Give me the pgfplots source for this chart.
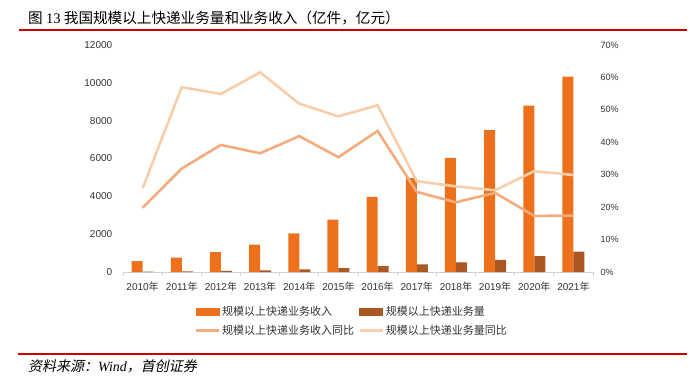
\documentclass[border=0pt]{standalone}
\usepackage{pgfplots}
\pgfplotsset{compat=1.18}
\usepackage{fontspec}
\setmainfont{Liberation Sans}
\newfontfamily\cjk{Noto Sans CJK SC}
\newfontfamily\cjkit{Noto Sans CJK SC}[FakeSlant=0.2]
\newfontfamily\serif{Liberation Serif}
\definecolor{revbar}{RGB}{237,113,28}
\definecolor{volbar}{RGB}{170,87,33}
\definecolor{revline}{RGB}{244,172,124}
\definecolor{volline}{RGB}{249,205,170}
\definecolor{axgray}{RGB}{210,210,210}
\definecolor{labgray}{RGB}{50,50,50}
\definecolor{hdred}{RGB}{208,0,0}
\newcommand{\nian}{{\cjk 年}}
\begin{document}
\begin{tikzpicture}
\useasboundingbox (0,0) rectangle (693bp,-381bp);
\node[anchor=west, inner sep=0, font=\fontsize{14.6bp}{16bp}\selectfont] at (28bp,-18bp) {\cjk 图 {\serif 13} 我国规模以上快递业务量和业务收入（亿件，亿元）};
\draw[hdred, line width=1.3bp] (19bp,-30bp) -- (687bp,-30bp);
\draw[hdred, line width=1.3bp] (18bp,-354bp) -- (687bp,-354bp);
\node[anchor=west, inner sep=0, font=\fontsize{14bp}{16bp}\selectfont] at (28bp,-366bp) {\cjkit 资料来源：{\serif\itshape Wind}，首创证券};
\begin{axis}[
  at={(123bp,-272bp)}, anchor=south west, scale only axis,
  width=470bp, height=227bp,
  xmin=-0.5, xmax=11.5, ymin=0, ymax=12000,
  ytick={0,2000,...,12000},
  xtick={0,...,11},
  xticklabels={2010\nian,2011\nian,2012\nian,2013\nian,2014\nian,2015\nian,2016\nian,2017\nian,2018\nian,2019\nian,2020\nian,2021\nian},
  minor xtick={-0.5,0.5,...,11.5},
  axis lines*=left,
  x axis line style={draw=axgray, line width=0.9bp},
  y axis line style={draw=none},
  ytick style={draw=none},
  major x tick style={draw=none},
  minor x tick style={draw=axgray, line width=0.9bp},
  minor tick length=4bp,
  tick align=outside,
  scaled y ticks=false,
  /pgf/number format/1000 sep={},
  /pgf/number format/assume math mode=true,
  tick label style={font=\fontsize{10bp}{12bp}\selectfont, text=labgray},
  yticklabel style={xshift=-3bp},
  xticklabel style={yshift=-2.5bp},
  ybar=0pt, bar width=11bp,
]
\addplot[fill=revbar, draw=none, bar shift=-5.5bp] coordinates {(0,574.6) (1,758.0) (2,1055.3) (3,1441.7) (4,2045.4) (5,2769.6) (6,3974.4) (7,4957.1) (8,6038.4) (9,7497.8) (10,8795.4) (11,10332.3)};
\addplot[fill=volbar, draw=none, bar shift=5.5bp] coordinates {(0,23.4) (1,36.7) (2,56.9) (3,91.9) (4,139.6) (5,206.7) (6,312.8) (7,400.6) (8,507.1) (9,635.2) (10,833.6) (11,1083.0)};
\end{axis}
\begin{axis}[
  at={(123bp,-272bp)}, anchor=south west, scale only axis,
  width=470bp, height=227bp,
  xmin=-0.5, xmax=11.5, ymin=0, ymax=70,
  ytick={0,10,...,70},
  yticklabel={\pgfmathprintnumber{\tick}\%},
  axis x line=none,
  axis y line*=right,
  y axis line style={draw=none},
  ytick style={draw=none},
  /pgf/number format/assume math mode=true,
  tick label style={font=\fontsize{9bp}{11bp}\selectfont, text=labgray},
  yticklabel style={xshift=4bp},
  legend columns=2,
  legend style={at={(0.152,-0.142)}, anchor=north west, draw=none, fill=none,
    font=\fontsize{11bp}{12bp}\selectfont\cjk, text=labgray,
    /tikz/every even column/.append style={column sep=2bp},
    /tikz/row sep=4bp, inner sep=0pt},
  legend cell align=left,
  legend image code/.code={\draw[#1] (0bp,0bp) -- (23bp,0bp);},
]
\addlegendimage{legend image code/.code={\fill[revbar] (0bp,-3.2bp) rectangle (23bp,3.2bp);}}
\addlegendentry{规模以上快递业务收入}
\addlegendimage{legend image code/.code={\fill[volbar] (0bp,-3.2bp) rectangle (23bp,3.2bp);}}
\addlegendentry{规模以上快递业务量}
\addplot[revline, line width=2.6bp, mark=none] coordinates {(0,19.8) (1,31.9) (2,39.2) (3,36.6) (4,41.9) (5,35.4) (6,43.5) (7,24.7) (8,21.5) (9,24.4) (10,17.3) (11,17.4)};
\addlegendentry{规模以上快递业务收入同比}
\addplot[volline, line width=2.6bp, mark=none] coordinates {(0,25.8) (1,57.0) (2,54.9) (3,61.6) (4,51.9) (5,48.0) (6,51.4) (7,28.0) (8,26.4) (9,25.2) (10,31.1) (11,29.9)};
\addlegendentry{规模以上快递业务量同比}
\end{axis}
\end{tikzpicture}
\end{document}
